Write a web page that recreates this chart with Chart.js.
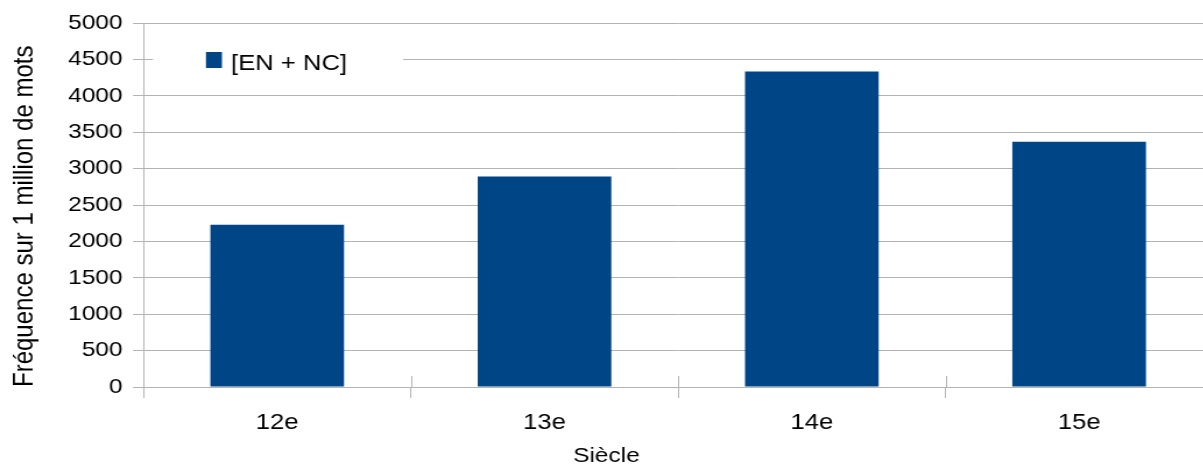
<!DOCTYPE html>
<html>
<head>
<meta charset="utf-8">
<script src="https://cdn.jsdelivr.net/npm/chart.js@4"></script>
<style>
  html, body { margin: 0; padding: 0; overflow: hidden; background: #fff; }
  #wrap { width: 1041px; height: 467px; transform: scaleX(1.165); transform-origin: 0 0; }
</style>
</head>
<body>
<div id="wrap"><canvas id="chart" width="1041" height="467"></canvas></div>
<script>
const categories = ['12e', '13e', '14e', '15e'];
const seriesLabel = '[EN + NC]';
const frequencies = [2230, 2890, 4335, 3370];
const yTicks = [0, 5000, 500]; // min, max, step

const FONT = "'Liberation Sans', Arial, sans-serif";
const GRID = '#b3b3b3';
const BLUE = '#004586';

// legend drawn inside the plot, on a white patch over the grid
const insideLegend = {
  id: 'insideLegend',
  afterDraw(chart) {
    const ctx = chart.ctx;
    const ds = chart.data.datasets[0];
    ctx.save();
    ctx.fillStyle = '#fff';
    ctx.fillRect(131.3, 46, 214.7, 28);
    ctx.fillStyle = ds.backgroundColor;
    ctx.fillRect(176.8, 52, 13.7, 16);
    ctx.fillStyle = '#000';
    ctx.font = '22px ' + FONT;
    ctx.textBaseline = 'alphabetic';
    ctx.fillText(ds.label, 198.3, 70);
    ctx.restore();
  }
};

// category boundary ticks also poke a little above the x axis
const boundaryTicks = {
  id: 'boundaryTicks',
  afterDraw(chart) {
    const x = chart.scales.x;
    const ctx = chart.ctx;
    ctx.save();
    ctx.strokeStyle = GRID;
    ctx.lineWidth = 1;
    for (let i = 1; i <= categories.length; i++) {
      const px = Math.round(x.getPixelForValue(i - 0.5)) + 0.5;
      ctx.beginPath();
      ctx.moveTo(px, x.top - 11);
      ctx.lineTo(px, x.top);
      ctx.stroke();
    }
    ctx.restore();
  }
};

new Chart(document.getElementById('chart'), {
  type: 'bar',
  data: {
    labels: categories,
    datasets: [{
      label: seriesLabel,
      data: frequencies,
      backgroundColor: BLUE,
      borderWidth: 0,
      categoryPercentage: 0.5,
      barPercentage: 1
    }]
  },
  options: {
    responsive: false,
    animation: false,
    layout: { padding: { top: 23, left: 0, right: 0, bottom: 0 } },
    plugins: {
      legend: { display: false },
      tooltip: { enabled: false },
      title: {
        display: true,
        position: 'bottom',
        text: 'Siècle',
        color: '#000',
        font: { family: FONT, size: 21, weight: 'normal', lineHeight: 1 },
        padding: { top: 0, bottom: 0 }
      }
    },
    scales: {
      x: {
        afterFit(scale) { scale.height = 59; },
        grid: {
          display: true,
          drawOnChartArea: false,
          drawTicks: true,
          tickLength: 11,
          offset: true,
          color: GRID
        },
        border: { color: GRID },
        ticks: { color: '#000', padding: 12, font: { family: FONT, size: 22 } }
      },
      y: {
        min: yTicks[0],
        max: yTicks[1],
        afterFit(scale) { scale.width = 123.2; },
        grid: { color: GRID, tickLength: 9 },
        border: { color: GRID },
        ticks: {
          stepSize: yTicks[2],
          color: '#000',
          padding: 9,
          font: { family: FONT, size: 21 },
          callback: v => String(v)
        },
        title: {
          display: true,
          text: 'Fréquence sur 1 million de mots',
          align: 'start',
          color: '#000',
          font: { family: FONT, size: 24, lineHeight: 1.2 },
          padding: { top: 7, bottom: 0 }
        }
      }
    }
  },
  plugins: [insideLegend, boundaryTicks]
});
</script>
</body>
</html>
